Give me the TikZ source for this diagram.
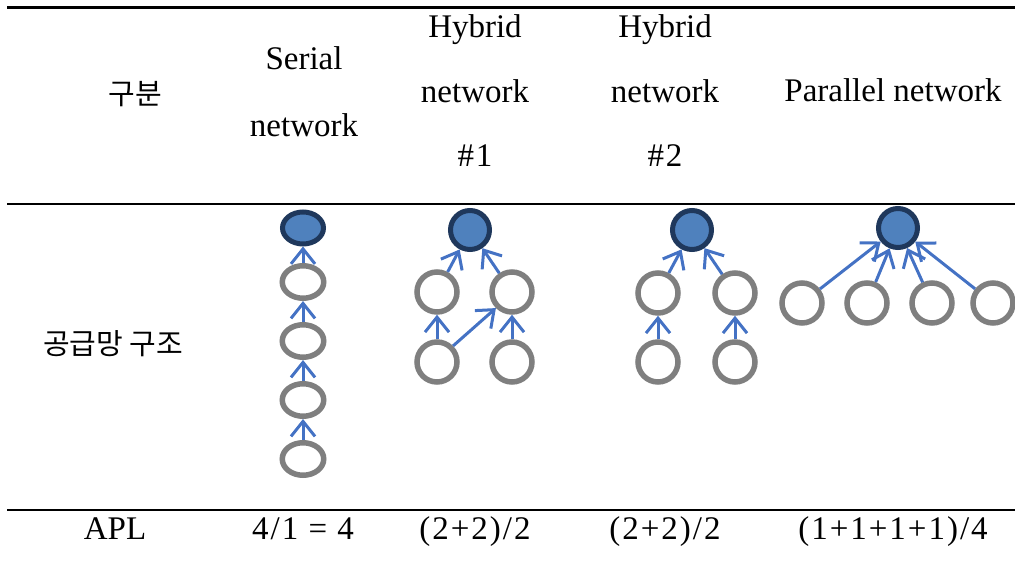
\documentclass[tikz,border=0pt]{standalone}
\usepackage{fontspec}
\setmainfont{Liberation Serif}
\newfontfamily\krfont{Noto Sans CJK KR}
\newfontfamily\wideserif[LetterSpace=6]{Liberation Serif}
\usetikzlibrary{shapes.geometric,arrows.meta}
\definecolor{hubfill}{RGB}{79,129,189}
\definecolor{hubline}{RGB}{31,56,92}
\definecolor{leafline}{RGB}{127,127,127}
\definecolor{arrowblue}{RGB}{68,114,196}
\tikzset{
  hub/.style={ellipse,draw=hubline,fill=hubfill,line width=5pt,minimum width=39pt,minimum height=39pt,inner sep=0pt},
  leaf/.style={ellipse,draw=leafline,line width=5.5pt,minimum width=40pt,minimum height=40pt,inner sep=0pt},
  flat/.style={minimum width=41pt,minimum height=32pt},
  link/.style={draw=arrowblue,line width=3pt,-{Straight Barb[length=15pt,width=24pt,line width=3pt]}},
  rule/.style={line width=2.5pt},
  txt/.style={anchor=base,inner sep=0pt,font=\fontsize{33}{40}\selectfont},
  numtxt/.style={txt,font=\wideserif\fontsize{33}{40}\selectfont},
  krtxt/.style={anchor=base,inner sep=0pt,font=\krfont\fontsize{29}{35}\selectfont}
}
\begin{document}
\begin{tikzpicture}[x=1pt,y=-1pt]
  \useasboundingbox (0,0) rectangle (1015,569);
  % table rules
  \coordinate (r0l) at (7,7.5);   \coordinate (r0r) at (1015,7.5);
  \coordinate (r1l) at (7,204);   \coordinate (r1r) at (1015,204);
  \coordinate (r2l) at (7,510);   \coordinate (r2r) at (1015,510);
  \draw[rule] (r0l) -- (r0r);
  \draw[rule] (r1l) -- (r1r);
  \draw[rule] (r2l) -- (r2r);

  % header row
  \node[krtxt] (head) at (135,105) {구분};
  \node[txt] (serA) at (304,70) {Serial};
  \node[txt] (serB) at (304,137) {network};
  \node[txt] (hyaA) at (475,38) {Hybrid};
  \node[txt] (hyaB) at (475,103) {network};
  \node[numtxt] (hyaC) at (475,167) {\#1};
  \node[txt] (hybA) at (665,38) {Hybrid};
  \node[txt] (hybB) at (665,103) {network};
  \node[numtxt] (hybC) at (665,167) {\#2};
  \node[txt] (par) at (893,102) {Parallel network};

  % structure row
  \node[krtxt] (struct) at (113,355) {공급망 구조};

  % serial network
  \node[hub,flat] (s0) at (303,228) {};
  \foreach \i/\y in {1/282,2/341,3/400,4/459}
    \node[leaf,flat,minimum width=41.5pt,minimum height=32.5pt] (s\i) at (303,\y) {};
  \foreach \i [remember=\i as \last (initially 0)] in {1,...,4}
    \draw[link] (s\i) -- (s\last);

  % hybrid network #1
  \node[hub] (a0) at (470,230) {};
  \node[leaf] (a1) at (437,292) {};
  \node[leaf] (a2) at (512,292) {};
  \node[leaf] (a3) at (437,362) {};
  \node[leaf] (a4) at (512,362) {};
  \draw[link] (a1) -- (a0);
  \draw[link] (a2) -- (a0);
  \draw[link] (a3) -- (a1);
  \draw[link] (a4) -- (a2);
  \draw[link] (a3.north east) -- (a2.south west);

  % hybrid network #2
  \node[hub] (b0) at (692,230) {};
  \node[leaf] (b1) at (658,293) {};
  \node[leaf] (b2) at (735,293) {};
  \node[leaf] (b3) at (658,362) {};
  \node[leaf] (b4) at (735,362) {};
  \draw[link] (b1) -- (b0);
  \draw[link] (b2) -- (b0);
  \draw[link] (b3) -- (b1);
  \draw[link] (b4) -- (b2);

  % parallel network
  \node[hub] (p0) at (898,228) {};
  \foreach \i/\x in {1/802,2/867,3/932,4/993}{
    \node[leaf] (p\i) at (\x,303) {};
    \draw[link] (p\i) -- (p0);
  }

  % APL row
  \node[txt] (apl) at (115,539) {APL};
  \node[numtxt] (aplS) at (303,539) {4/1 = 4};
  \node[numtxt] (aplA) at (475,539) {(2+2)/2};
  \node[numtxt] (aplB) at (665,539) {(2+2)/2};
  \node[numtxt] (aplP) at (893,539) {(1+1+1+1)/4};
\end{tikzpicture}
\end{document}
